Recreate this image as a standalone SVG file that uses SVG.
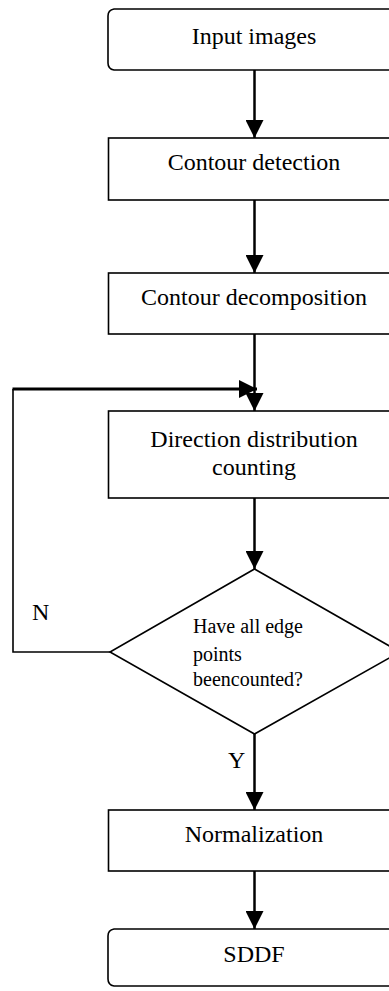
<svg xmlns="http://www.w3.org/2000/svg" width="389" height="991" viewBox="0 0 389 991">
<defs>
<style>
.box{fill:#fff;stroke:#000;stroke-width:1.6}
.t{font-family:"Liberation Serif","Times New Roman",serif;font-size:24px;fill:#000;text-anchor:middle}
.s{font-family:"Liberation Serif","Times New Roman",serif;font-size:20px;fill:#000}
.l{font-family:"Liberation Serif","Times New Roman",serif;font-size:24px;fill:#000}
.c{fill:none;stroke:#000;stroke-width:2.5}
.thin{fill:none;stroke:#000;stroke-width:1.6}
</style>
<marker id="ah" markerWidth="18" markerHeight="18" viewBox="0 0 18 18" refX="18" refY="9" orient="auto" markerUnits="userSpaceOnUse">
<path d="M0,0 L18,9 L0,18 Z" fill="#000"/>
</marker>
</defs>
<rect width="389" height="991" fill="#fff"/>
<g id="connectors">
<line class="c" x1="254.5" y1="70" x2="254.5" y2="138" marker-end="url(#ah)"/>
<line class="c" x1="254.5" y1="200" x2="254.5" y2="273" marker-end="url(#ah)"/>
<line class="c" x1="254.5" y1="334" x2="254.5" y2="411" marker-end="url(#ah)"/>
<line class="c" x1="254.5" y1="498" x2="254.5" y2="569" marker-end="url(#ah)"/>
<line class="c" x1="254.5" y1="734" x2="254.5" y2="810" marker-end="url(#ah)"/>
<line class="c" x1="254.5" y1="871" x2="254.5" y2="929" marker-end="url(#ah)"/>
<polyline class="thin" points="110,652 13,652 13,389"/>
<line x1="12.5" y1="389" x2="257" y2="389" stroke="#000" stroke-width="3" marker-end="url(#ah)"/>
<text class="l" x="32" y="620">N</text>
<text class="l" x="228" y="768">Y</text>
</g>
<g id="input">
<path class="box" d="M114,9 L410,9 L410,70 L114,70 Q108,69 108,63 L108,16 Q108,10 114,9 Z"/>
<text class="t" x="254" y="44">Input images</text>
</g>
<g id="detection">
<rect class="box" x="108.5" y="138" width="300" height="62"/>
<text class="t" x="254" y="170">Contour detection</text>
</g>
<g id="decomposition">
<rect class="box" x="108.5" y="273" width="300" height="61"/>
<text class="t" x="254" y="305">Contour decomposition</text>
</g>
<g id="counting">
<rect class="box" x="108.5" y="411" width="300" height="87"/>
<text class="t" x="254" y="447">Direction distribution</text>
<text class="t" x="254" y="475">counting</text>
</g>
<g id="decision">
<polygon class="box" points="254.5,569 400,652 254.5,734 110,652"/>
<text class="s" x="193" y="633">Have all edge</text>
<text class="s" x="193" y="661">points</text>
<text class="s" x="193" y="686">beencounted?</text>
</g>
<g id="normalization">
<rect class="box" x="108.5" y="810" width="300" height="61"/>
<text class="t" x="254" y="842">Normalization</text>
</g>
<g id="sddf">
<path class="box" d="M114,929 L410,929 L410,986 L114,986 Q108,985 108,979 L108,936 Q108,930 114,929 Z"/>
<text class="t" x="254" y="962">SDDF</text>
</g>
</svg>
